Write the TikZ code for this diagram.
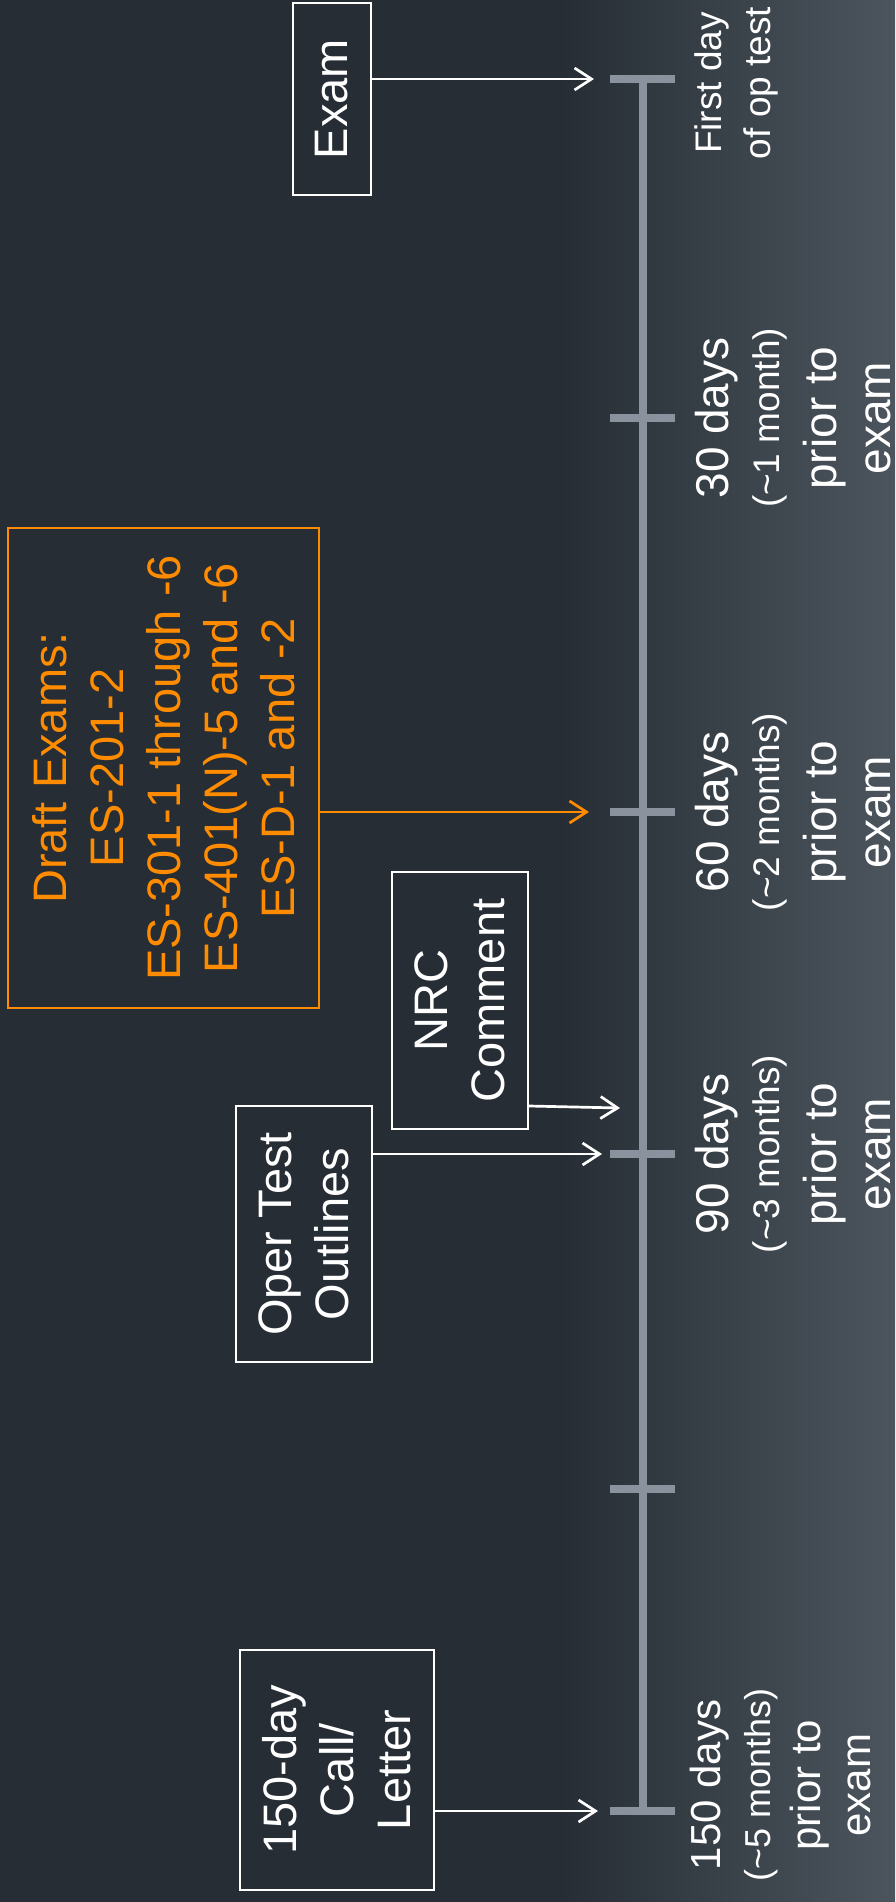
\documentclass[tikz,border=0pt]{standalone}
\usepackage{fontspec}
\setmainfont{Liberation Sans}
\usetikzlibrary{arrows.meta}
\definecolor{bgdark}{HTML}{262D35}
\definecolor{bglight}{HTML}{4C555D}
\definecolor{axisgray}{HTML}{8A929E}
\definecolor{draftorange}{HTML}{FF8C00}
\begin{document}
\begin{tikzpicture}[x=1pt,y=-1pt,
  box/.style={draw=white, line width=2.3pt, text=white, rotate=90, align=center, inner sep=0pt, font=\fontsize{47}{57}\selectfont},
  orangebox/.style={box, draw=draftorange, text=draftorange},
  conn/.style={draw=white, line width=2.7pt, -{Straight Barb[length=17pt,width=22pt]}},
  orangeconn/.style={conn, draw=draftorange},
  axisline/.style={draw=axisgray, line width=8pt},
  tickmark/.style={draw=axisgray, line width=8pt},
  lbl/.style={rotate=90, text=white, align=center, inner sep=0pt, font=\fontsize{46}{54}\selectfont},
  smalllbl/.style={rotate=90, text=white, align=center, inner sep=0pt, font=\fontsize{42}{50}\selectfont}
]
\useasboundingbox (0,0) rectangle (895,1902);
\fill[bgdark] (0,0) rectangle (895,1902);
\shade[left color=bgdark, right color=bglight] (560,0) rectangle (895,1902);

% timeline
\coordinate (t0) at (643,79);
\coordinate (t30) at (643,418);
\coordinate (t60) at (643,812);
\coordinate (t90) at (643,1154);
\coordinate (t120) at (643,1489);
\coordinate (t150) at (643,1811);
\draw[axisline] (t0) -- (t150);
\foreach \t in {t0,t30,t60,t90,t120,t150}
  \draw[tickmark] ([xshift=-33pt]\t) -- ([xshift=32pt]\t);

% boxes
\node[box, minimum width=192pt, minimum height=78pt] (exam) at (332,99) {Exam};
\node[orangebox, minimum width=480pt, minimum height=311pt] (draft) at (163.5,768)
  {Draft Exams:\\ES-201-2\\ES-301-1 through -6\\ES-401(N)-5 and -6\\ES-D-1 and -2};
\node[box, minimum width=257pt, minimum height=136pt] (nrc) at (460,1000.5) {NRC\\Comment};
\node[box, minimum width=256pt, minimum height=136pt] (oper) at (304,1234) {Oper Test\\Outlines};
\node[box, minimum width=240pt, minimum height=194pt] (call) at (337,1770) {150-day\\Call/\\Letter};

% arrows
\coordinate (aexam) at (594,79);
\coordinate (adraft) at (589,812);
\coordinate (anrc) at (620,1108);
\coordinate (aoper) at (602,1154);
\coordinate (acall) at (598,1811);
\draw[conn] (exam.south |- aexam) -- (aexam);
\draw[orangeconn] (draft.south |- adraft) -- (adraft);
\draw[conn] ([yshift=-105.5pt]nrc.south) -- (anrc);
\draw[conn] (oper.south |- aoper) -- (aoper);
\draw[conn] (call.south |- acall) -- (acall);

% labels
\node[lbl, font=\fontsize{37}{49}\selectfont] (lfirst) at (736,83) {First day\\of op test};
\node[lbl] (l30) at (793,418) {30 days\\[-3pt]{\fontsize{37}{54}\selectfont (\textasciitilde 1 month)}\\[3pt]prior to\\exam};
\node[lbl] (l60) at (793,812) {60 days\\[-3pt]{\fontsize{37}{54}\selectfont (\textasciitilde 2 months)}\\[3pt]prior to\\exam};
\node[lbl] (l90) at (793,1154) {90 days\\[-3pt]{\fontsize{37}{54}\selectfont (\textasciitilde 3 months)}\\[3pt]prior to\\exam};
\node[smalllbl] (l150) at (780,1785) {150 days\\{\fontsize{36}{50}\selectfont (\textasciitilde 5 months)}\\prior to\\exam};
\end{tikzpicture}
\end{document}
